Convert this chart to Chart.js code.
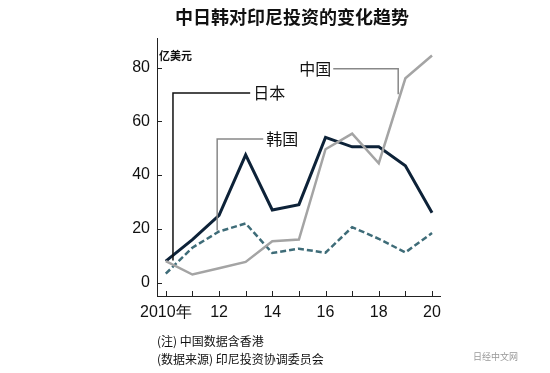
<!DOCTYPE html>
<html>
<head>
<meta charset="utf-8">
<script src="https://cdn.jsdelivr.net/npm/chart.js@4"></script>
<style>
  html, body { margin: 0; padding: 0; background: #fff; }
  #wrap { width: 550px; height: 373px; }
</style>
</head>
<body>
<div id="wrap"><canvas id="grafico" width="550" height="373"></canvas></div>
<script>
const years = [2010, 2011, 2012, 2013, 2014, 2015, 2016, 2017, 2018, 2019, 2020];
const japan = [8, 16, 25, 47.5, 27, 29, 54, 50.5, 50.5, 43.5, 26];
const china = [8, 3, 5.3, 7.7, 15.4, 16, 49.6, 55.4, 44.4, 76, 84.5];
const korea = [3.3, 13, 19, 22, 11, 12.6, 11.1, 20.6, 16.3, 11.2, 18.4];
const yTicks = [0, 20, 40, 60, 80];

const title = '中日韩对印尼投资的变化趋势';
const unit = '亿美元';
const notes = ['(注) 中国数据含香港', '(数据来源) 印尼投资协调委员会'];

const cjk = '"Noto Sans CJK SC", "Noto Sans", sans-serif';
const narrow = '"Liberation Sans Narrow", "Liberation Sans", sans-serif';

const pts = arr => years.map((y, i) => ({ x: y, y: arr[i] }));

// leader lines: label text and its elbow path, in data units
const leaders = [
    { text: '日本', color: '#111', side: 'right', path: [[2010.27, 8.2], [2010.27, 70.5], [2013.17, 70.5]] },
    { text: '韩国', color: '#888', side: 'right', path: [[2011.93, 19.4], [2011.93, 53.4], [2013.66, 53.4]] },
    { text: '中国', color: '#888', side: 'left', path: [[2018.73, 70.1], [2018.73, 79.6], [2016.29, 79.6]] }
];

const extras = {
    id: 'extras',
    afterDraw(chart) {
        const c = chart.ctx;
        const xs = chart.scales.x, ys = chart.scales.y;
        const area = chart.chartArea;
        c.save();
        // inward tick marks
        c.strokeStyle = '#222';
        c.lineWidth = 1;
        years.forEach(y => {
            const px = Math.round(xs.getPixelForValue(y)) + 0.5;
            c.beginPath(); c.moveTo(px, area.bottom); c.lineTo(px, area.bottom - 5); c.stroke();
        });
        yTicks.forEach(v => {
            const py = Math.round(ys.getPixelForValue(v)) + 0.5;
            c.beginPath(); c.moveTo(area.left, py); c.lineTo(area.left + 5, py); c.stroke();
        });
        // leaders
        leaders.forEach(l => {
            c.strokeStyle = l.color;
            c.lineWidth = 1.5;
            c.beginPath();
            l.path.forEach((p, i) => {
                const px = xs.getPixelForValue(p[0]), py = ys.getPixelForValue(p[1]);
                if (i === 0) c.moveTo(px, py); else c.lineTo(px, py);
            });
            c.stroke();
            const end = l.path[l.path.length - 1];
            const ex = xs.getPixelForValue(end[0]), ey = ys.getPixelForValue(end[1]);
            c.fillStyle = '#111';
            c.font = '16px ' + cjk;
            c.textBaseline = 'middle';
            c.textAlign = l.side === 'right' ? 'left' : 'right';
            c.fillText(l.text, l.side === 'right' ? ex + 3 : ex - 2, ey);
        });
        // title
        c.fillStyle = '#111';
        c.font = 'bold 18px ' + cjk;
        c.textAlign = 'center';
        c.textBaseline = 'middle';
        c.fillText(title, 292, 17);
        // unit
        c.font = 'bold 11px ' + cjk;
        c.textAlign = 'left';
        c.fillText(unit, 159, 56);
        // notes
        c.font = '12px ' + cjk;
        c.fillText(notes[0], 157, 341);
        c.fillText(notes[1], 157, 359);
        c.fillStyle = '#999';
        c.font = '9px ' + cjk;
        c.fillText('日经中文网', 473, 357);
        c.restore();
    }
};

new Chart(document.getElementById('grafico').getContext('2d'), {
    type: 'line',
    data: {
        datasets: [
            {
                label: '中国', data: pts(china), borderColor: '#a4a4a4', borderWidth: 2.5,
                pointRadius: 0, tension: 0, fill: false
            },
            {
                label: '韩国', data: pts(korea), borderColor: '#3e6c78', borderWidth: 2.5,
                borderDash: [6, 3], pointRadius: 0, tension: 0, fill: false
            },
            {
                label: '日本', data: pts(japan), borderColor: '#0d2238', borderWidth: 3,
                pointRadius: 0, tension: 0, fill: false
            }
        ]
    },
    options: {
        responsive: false,
        animation: false,
        layout: { padding: { top: 38, right: 110, left: 0, bottom: 0 } },
        plugins: {
            legend: { display: false },
            tooltip: { enabled: false }
        },
        scales: {
            x: {
                type: 'linear',
                min: 2009.67,
                max: 2020.3,
                afterBuildTicks: s => { s.ticks = years.map(v => ({ value: v })); },
                afterFit: s => { s.height = 77; },
                grid: { display: false, drawTicks: false },
                border: { display: true, color: '#222', width: 1 },
                ticks: {
                    autoSkip: false,
                    maxRotation: 0,
                    padding: 7,
                    color: '#111',
                    font: { size: 16, family: narrow },
                    callback: v => v === 2010 ? '2010年' : (v % 2 === 0 ? String(v % 100) : '')
                }
            },
            y: {
                min: -5,
                max: 91,
                afterBuildTicks: s => { s.ticks = yTicks.map(v => ({ value: v })); },
                afterFit: s => { s.width = 157; },
                grid: { display: false, drawTicks: false },
                border: { display: true, color: '#222', width: 1 },
                ticks: {
                    padding: 7,
                    color: '#111',
                    font: { size: 16, family: narrow }
                }
            }
        }
    },
    plugins: [extras]
});
</script>
</body>
</html>
